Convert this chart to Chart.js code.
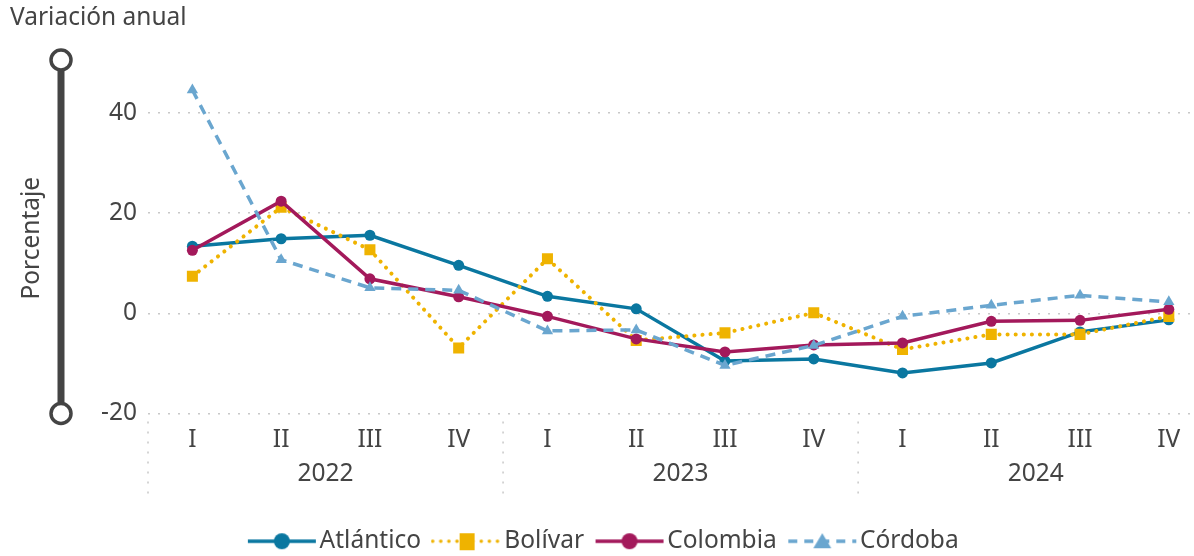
<!DOCTYPE html>
<html><head><meta charset="utf-8">
<script src="https://cdn.jsdelivr.net/npm/chart.js@4.4.1/dist/chart.umd.min.js"></script>
<style>
html,body{margin:0;padding:0;overflow:hidden;background:#fff;width:1194px;height:556px}
#wrap{position:relative;width:1221px;height:556px}
</style></head><body>
<div id="wrap"><canvas id="c" width="1221" height="556"></canvas></div>
<script>
const quarters = ['I','II','III','IV','I','II','III','IV','I','II','III','IV'];
const years = ['2022','2023','2024'];
const yTicks = [-20, 0, 20, 40];
const atlantico = [13.4, 14.9, 15.6, 9.6, 3.4, 0.9, -9.5, -9.1, -11.9, -9.9, -3.7, -1.3];
const bolivar   = [7.4, 21.2, 12.7, -6.9, 10.9, -5.4, -3.9, 0.1, -7.2, -4.2, -4.2, -0.6];
const colombia  = [12.6, 22.4, 6.9, 3.3, -0.6, -5.1, -7.7, -6.3, -5.9, -1.6, -1.4, 0.8];
const cordoba   = [44.6, 10.7, 5.1, 4.6, -3.5, -3.3, -10.4, -6.4, -0.6, 1.6, 3.6, 2.3];

const FONT = "'Noto Sans', 'Open Sans', sans-serif";
const FS = 24.5;
const TXT = '#444444';
const C_ATL = '#0a77a0', C_BOL = '#efb300', C_COL = '#a3195b', C_COR = '#6aa6cf';

function legendIcon(color, dash, cap, shape, lw) {
  const c = document.createElement('canvas');
  c.width = 72; c.height = 24;
  const g = c.getContext('2d');
  g.strokeStyle = color; g.lineWidth = lw; g.setLineDash(dash); g.lineCap = cap;
  g.beginPath(); g.moveTo(2, 12); g.lineTo(70, 12); g.stroke();
  g.setLineDash([]); g.fillStyle = color;
  g.beginPath();
  if (shape === 'circle') { g.arc(36, 12, 8, 0, Math.PI * 2); }
  else if (shape === 'rect') { g.rect(29, 4, 15, 17); }
  else { g.moveTo(36, 4); g.lineTo(45, 19); g.lineTo(27, 19); g.closePath(); }
  g.fill();
  return c;
}
const icons = [
  legendIcon(C_ATL, [], 'butt', 'circle', 3.5),
  legendIcon(C_BOL, [0.1, 8], 'round', 'rect', 3.5),
  legendIcon(C_COL, [], 'butt', 'circle', 3.5),
  legendIcon(C_COR, [9, 7], 'butt', 'triangle', 3.5)
];

const deco = {
  id: 'deco',
  afterLayout(chart) {
    const lg = chart.legend;
    if (lg) { lg.left -= 8; lg.right -= 8; if (lg.legendHitBoxes) lg.legendHitBoxes.forEach(h => { h.left -= 8; }); }
  },
  afterDraw(chart) {
    const {ctx} = chart;
    const y = chart.scales.y, x = chart.scales.x;
    const bx = y.left + 51;
    const yTop = y.top - 3, yBot = y.getPixelForValue(-20);
    ctx.save();
    ctx.strokeStyle = '#444'; ctx.lineWidth = 7;
    ctx.beginPath(); ctx.moveTo(bx, yTop); ctx.lineTo(bx, yBot); ctx.stroke();
    ctx.lineWidth = 3.5; ctx.fillStyle = '#fff';
    [yTop, yBot].forEach(cy => { ctx.beginPath(); ctx.arc(bx, cy, 10, 0, Math.PI * 2); ctx.fill(); ctx.stroke(); });
    const step = x.getPixelForValue(1) - x.getPixelForValue(0);
    ctx.strokeStyle = '#c8c8c8'; ctx.lineWidth = 1.5; ctx.setLineDash([2, 8]);
    for (let i = 0; i <= quarters.length; i += 4) {
      const px = x.getPixelForValue(0) - step / 2 + i * step;
      ctx.beginPath(); ctx.moveTo(px, x.top + 8); ctx.lineTo(px, x.top + 84); ctx.stroke();
    }
    ctx.restore();
  }
};

new Chart(document.getElementById('c'), {
  type: 'line',
  data: {
    labels: quarters,
    datasets: [
      {label: 'Atlántico', data: atlantico, borderColor: C_ATL, backgroundColor: C_ATL, borderWidth: 3.5,
       pointStyle: 'circle', pointRadius: 5.5, pointBorderWidth: 0, order: 4},
      {label: 'Bolívar', data: bolivar, borderColor: C_BOL, backgroundColor: C_BOL, borderWidth: 4,
       borderDash: [0.1, 8], borderCapStyle: 'round', pointStyle: 'rect', pointRadius: 7.8, pointBorderWidth: 0, order: 3},
      {label: 'Colombia', data: colombia, borderColor: C_COL, backgroundColor: C_COL, borderWidth: 3.5,
       pointStyle: 'circle', pointRadius: 5.5, pointBorderWidth: 0, order: 2},
      {label: 'Córdoba', data: cordoba, borderColor: C_COR, backgroundColor: C_COR, borderWidth: 3.5,
       borderDash: [10, 7], pointStyle: 'triangle', pointRadius: 6.5, pointBorderWidth: 0, order: 1}
    ]
  },
  options: {
    responsive: false,
    animation: false,
    layout: {padding: {left: 10, right: 0, top: 0, bottom: -7.5}},
    plugins: {
      title: {display: true, text: 'Variación anual', align: 'start', color: TXT,
              font: {family: FONT, size: FS, weight: 'normal'}, padding: {top: 3, bottom: 30.6}},
      legend: {
        position: 'bottom',
        labels: {
          usePointStyle: true, pointStyleWidth: 51, boxHeight: FS, padding: 20,
          color: TXT, font: {family: FONT, size: FS},
          generateLabels(chart) {
            return chart.data.datasets.map((ds, i) => ({
              text: ds.label, pointStyle: icons[i], fillStyle: ds.borderColor, strokeStyle: ds.borderColor,
              lineWidth: 0, hidden: false, datasetIndex: i, fontColor: TXT
            }));
          }
        }
      },
      tooltip: {enabled: false}
    },
    scales: {
      x: {
        type: 'category', position: 'bottom', offset: true, weight: 0,
        grid: {display: false, drawTicks: false}, border: {display: false},
        ticks: {color: TXT, font: {family: FONT, size: FS}, padding: 12, maxRotation: 0, autoSkip: false},
        afterFit(s) { s.height = 40; }
      },
      x2: {
        type: 'category', position: 'bottom', offset: true, weight: 1, labels: years,
        grid: {display: false, drawTicks: false}, border: {display: false},
        ticks: {color: TXT, font: {family: FONT, size: FS}, padding: 6, maxRotation: 0},
        afterFit(s) { s.height = 55.5; }
      },
      y: {
        min: -20, max: 50,
        afterBuildTicks(s) { s.ticks = yTicks.map(v => ({value: v})); },
        grid: {color: '#c8c8c8', lineWidth: 1.5, drawTicks: false},
        border: {display: false, dash: [2, 8]},
        ticks: {color: TXT, font: {family: FONT, size: FS}, padding: 11},
        title: {display: true, text: 'Porcentaje', color: TXT, font: {family: FONT, size: FS}, padding: {top: 7, bottom: 0}},
        afterFit(s) { s.width = 138; }
      }
    }
  },
  plugins: [deco]
});
</script>
</body></html>
